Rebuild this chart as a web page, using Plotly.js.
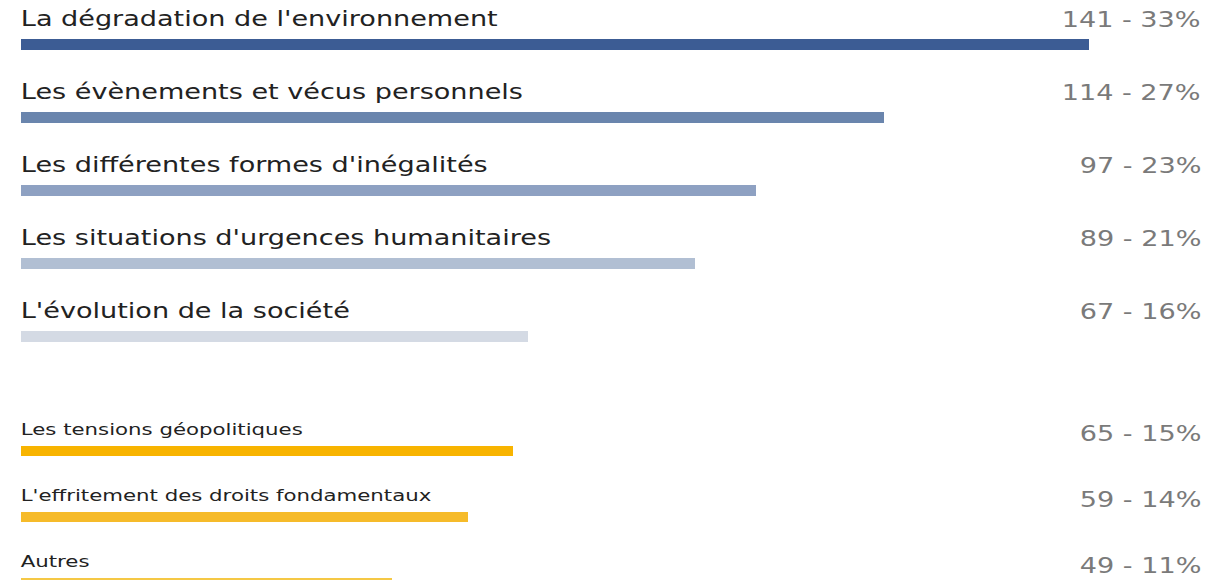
<!DOCTYPE html>
<html>
<head>
<meta charset="utf-8">
<script src="https://cdn.plot.ly/plotly-3.0.1.min.js"></script>
<style>
html,body{margin:0;padding:0;background:#fff;overflow:hidden;}
#frame{width:1221px;height:580px;overflow:hidden;position:relative;}
#chart{position:absolute;left:0;top:0;transform-origin:0 0;}
</style>
</head>
<body>
<div id="frame"><div id="chart"></div></div>
<script>
// Top group
const topLabels = [
  "La dégradation de l'environnement",
  "Les évènements et vécus personnels",
  "Les différentes formes d'inégalités",
  "Les situations d'urgences humanitaires",
  "L'évolution de la société"
];
const topCounts = [141, 114, 97, 89, 67];
const topPercents = [33, 27, 23, 21, 16];
const topColors = ["#3c5c94", "#6a85ad", "#8ea1c2", "#b1bfd3", "#d4dae4"];

// Bottom group
const bottomLabels = [
  "Les tensions géopolitiques",
  "L'effritement des droits fondamentaux",
  "Autres"
];
const bottomCounts = [65, 59, 49];
const bottomPercents = [15, 14, 11];
const bottomColors = ["#f8b400", "#f6bb2a", "#f5c845"];

// The reference picture is horizontally stretched; draw narrower and stretch.
const stretch = 1.29;
const W = 1221 / stretch, H = 600;
const pxPerUnit = 7.575 / stretch;
const ml = 20 / stretch, mr = 21 / stretch;
const xMax = (W - ml - mr) / pxPerUnit;

// top subplot geometry (vertical pixels)
const topStep = 72.9, topFirst = 44.5;
const topEdge = topFirst - topStep / 2;
const topDomain = [1 - (topEdge + topStep * topLabels.length) / H, 1 - topEdge / H];
// bottom subplot geometry
const botStep = 66, botFirst = 450.5;
const botEdge = botFirst - botStep / 2;
const botDomainTop = 1 - botEdge / H;
const botRangeMax = (H - botEdge) / botStep - 0.5;

const traces = [
  {
    type: 'bar', orientation: 'h',
    x: topCounts, y: topLabels,
    marker: {color: topColors},
    width: 11 / topStep,
    xaxis: 'x', yaxis: 'y',
    hoverinfo: 'skip'
  },
  {
    type: 'bar', orientation: 'h',
    x: bottomCounts, y: bottomLabels,
    marker: {color: bottomColors},
    width: 10 / botStep,
    xaxis: 'x2', yaxis: 'y2',
    hoverinfo: 'skip'
  }
];

const font = "DejaVu Sans, Verdana, sans-serif";
const annotations = [];
topLabels.forEach((lab, i) => {
  annotations.push({
    xref: 'x', yref: 'y', x: 0, y: lab, xanchor: 'left', yanchor: 'middle',
    xshift: -2.5, yshift: 25, text: lab, showarrow: false,
    font: {family: font, size: 21, color: '#222222'}
  });
  annotations.push({
    xref: 'paper', yref: 'y', x: 1, y: lab, xanchor: 'right', yanchor: 'middle',
    xshift: 1.5, yshift: 24, text: topCounts[i] + ' - ' + topPercents[i] + '%', showarrow: false,
    font: {family: font, size: 21, color: '#7a7a7a'}
  });
});
bottomLabels.forEach((lab, i) => {
  annotations.push({
    xref: 'x2', yref: 'y2', x: 0, y: lab, xanchor: 'left', yanchor: 'middle',
    xshift: -2.5, yshift: 21, text: lab, showarrow: false,
    font: {family: font, size: 16.5, color: '#222222'}
  });
  annotations.push({
    xref: 'paper', yref: 'y2', x: 1, y: lab, xanchor: 'right', yanchor: 'middle',
    xshift: 1.5, yshift: 17, text: bottomCounts[i] + ' - ' + bottomPercents[i] + '%', showarrow: false,
    font: {family: font, size: 21, color: '#7a7a7a'}
  });
});

const axisCommon = {showgrid: false, zeroline: false, showline: false, showticklabels: false, ticks: '', fixedrange: true};

const layout = {
  width: W, height: H,
  margin: {l: ml, r: mr, t: 0, b: 0, pad: 0},
  paper_bgcolor: '#ffffff', plot_bgcolor: '#ffffff',
  showlegend: false,
  bargap: 0,
  xaxis: Object.assign({}, axisCommon, {range: [0, xMax], anchor: 'y'}),
  yaxis: Object.assign({}, axisCommon, {domain: topDomain, type: 'category',
    categoryorder: 'array', categoryarray: topLabels, range: [topLabels.length - 0.5, -0.5], anchor: 'x'}),
  xaxis2: Object.assign({}, axisCommon, {range: [0, xMax], anchor: 'y2'}),
  yaxis2: Object.assign({}, axisCommon, {domain: [0, botDomainTop], type: 'category',
    categoryorder: 'array', categoryarray: bottomLabels, range: [botRangeMax, -0.5], anchor: 'x2'}),
  annotations: annotations
};

const el = document.getElementById('chart');
el.style.width = W + 'px';
el.style.height = H + 'px';
el.style.transform = 'scaleX(' + stretch + ')';
Plotly.newPlot(el, traces, layout, {staticPlot: true, displayModeBar: false});
</script>
</body>
</html>
